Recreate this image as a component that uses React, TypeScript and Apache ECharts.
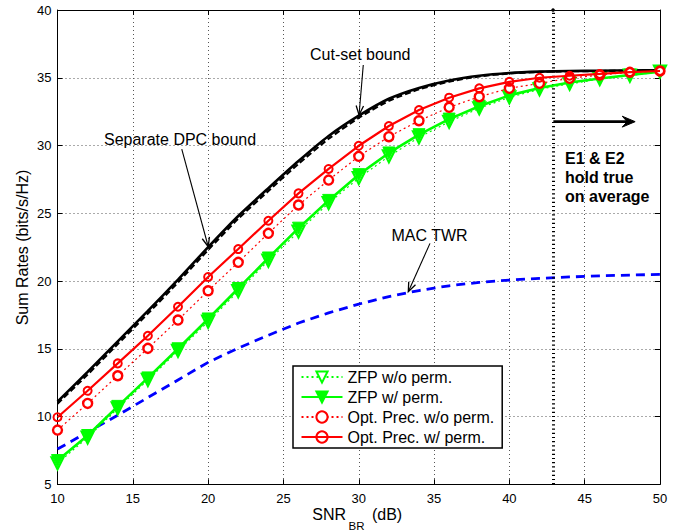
import React, { useEffect, useRef } from "react";
import * as echarts from "echarts";

// ---- data ----
const snr = [10, 12, 14, 16, 18, 20, 22, 24, 26, 28, 30, 32, 34, 36, 38, 40, 42, 44, 46, 48, 50];
const cutSet = [11.1, 13.3, 15.55, 17.8, 20.1, 22.5, 24.8, 26.85, 28.85, 30.7, 32.2, 33.45, 34.25, 34.8, 35.15, 35.35, 35.45, 35.5, 35.52, 35.54, 35.55];
const dpcBound = [10.95, 13.1, 15.35, 17.6, 19.9, 22.3, 24.6, 26.65, 28.65, 30.5, 32.05, 33.3, 34.15, 34.72, 35.1, 35.32, 35.43, 35.48, 35.5, 35.52, 35.53];
const macTwr = [7.6, 8.85, 10.1, 11.4, 12.7, 14.0, 15.05, 16.0, 16.9, 17.65, 18.3, 18.85, 19.3, 19.65, 19.9, 20.07, 20.2, 20.3, 20.38, 20.44, 20.49];
const zfpNoPerm = [6.55, 8.45, 10.6, 12.7, 14.85, 17.0, 19.25, 21.5, 23.65, 25.75, 27.6, 29.2, 30.6, 31.75, 32.75, 33.55, 34.15, 34.55, 34.9, 35.15, 35.45];
const zfpPerm = [6.75, 8.6, 10.75, 12.85, 15.0, 17.2, 19.45, 21.7, 23.9, 25.95, 27.85, 29.45, 30.8, 31.95, 32.9, 33.7, 34.25, 34.65, 34.95, 35.2, 35.45];
const optNoPerm = [9.0, 10.97, 13.01, 15.03, 17.12, 19.28, 21.38, 23.52, 25.61, 27.45, 29.2, 30.65, 31.83, 32.82, 33.6, 34.22, 34.59, 34.96, 35.2, 35.4, 35.5];
const optPerm = [9.95, 11.9, 13.92, 15.96, 18.1, 20.3, 22.36, 24.45, 26.47, 28.27, 29.98, 31.44, 32.62, 33.53, 34.22, 34.7, 35.0, 35.15, 35.28, 35.42, 35.5];
const legendNames = ["ZFP w/o perm.", "ZFP w/ perm.", "Opt. Prec. w/o perm.", "Opt. Prec. w/ perm."];
const thresholdSnr = 42.9;

// annotation anchors in data coordinates: [fromX, fromY, toX, toY]
const cutSetArrow = [30.3, 35.94, 30.02, 32.25];
const dpcArrow = [18.25, 29.74, 20.01, 22.53];
const macArrow = [34.73, 22.78, 33.29, 19.21];
const regionArrow = [42.92, 31.76, 48.35, 31.76];

const pairs = (ys: number[]) => snr.map((x, i) => [x, ys[i]]);
const FONT = "Liberation Sans, Arial, Helvetica, sans-serif";

function headPts(p0: number[], p1: number[], len: number, half: number) {
  const ang = Math.atan2(p1[1] - p0[1], p1[0] - p0[0]);
  const a1 = ang + Math.PI - half;
  const a2 = ang + Math.PI + half;
  return [
    [p1[0] + len * Math.cos(a1), p1[1] + len * Math.sin(a1)],
    [p1[0], p1[1]],
    [p1[0] + len * Math.cos(a2), p1[1] + len * Math.sin(a2)],
  ];
}

export default function App() {
  const ref = useRef<HTMLDivElement>(null);

  useEffect(() => {
    if (!ref.current) return;
    const chart = echarts.init(ref.current, undefined, { renderer: "svg" });
    const green = "#00ff00";
    const red = "#ff0000";

    const axisCommon = {
      type: "value" as const,
      axisLine: { show: true, lineStyle: { color: "#000", width: 1 } },
      axisTick: { show: true, inside: true, length: 5, lineStyle: { color: "#000" } },
    };

    chart.setOption({
      animation: false,
      backgroundColor: "#fff",
      textStyle: { fontFamily: FONT },
      grid: { left: 57.5, right: 24, top: 10, bottom: 46.7, containLabel: false },
      xAxis: [
        {
          ...axisCommon,
          min: 10,
          max: 50,
          interval: 5,
          position: "bottom",
          axisLabel: { color: "#000", fontSize: 13, margin: 8, fontFamily: FONT },
          splitLine: { show: true, lineStyle: { color: "#555", width: 1, type: [1, 3] } },
        },
        {
          ...axisCommon,
          min: 10,
          max: 50,
          interval: 5,
          position: "top",
          axisLabel: { show: false },
          splitLine: { show: false },
        },
      ],
      yAxis: [
        {
          ...axisCommon,
          min: 5,
          max: 40,
          interval: 5,
          position: "left",
          axisLabel: { color: "#000", fontSize: 13, margin: 6, fontFamily: FONT },
          splitLine: { show: true, lineStyle: { color: "#555", width: 1, type: [1, 3] } },
        },
        {
          ...axisCommon,
          min: 5,
          max: 40,
          interval: 5,
          position: "right",
          axisLabel: { show: false },
          splitLine: { show: false },
        },
      ],
      legend: {
        data: legendNames,
        orient: "vertical",
        left: 293,
        top: 366,
        width: 204,
        padding: [3, 8, 3, 7.5],
        itemWidth: 41,
        itemHeight: 14,
        itemGap: 4,
        backgroundColor: "#fff",
        borderColor: "#000",
        borderWidth: 1.5,
        borderRadius: 0,
        textStyle: { color: "#000", fontSize: 16, fontFamily: FONT },
      },
      series: [
        {
          name: "MAC TWR",
          type: "line",
          data: pairs(macTwr),
          symbol: "none",
          lineStyle: { color: "#0000ff", width: 2.8, type: [9, 6] },
          z: 2,
          markLine: {
            silent: true,
            symbol: ["none", "none"],
            label: { show: false },
            lineStyle: { color: "#000", width: 3, type: [1.2, 3] },
            data: [{ xAxis: thresholdSnr }],
          },
        },
        {
          name: "Cut-set bound",
          type: "line",
          data: pairs(cutSet),
          symbol: "none",
          smooth: 0.2,
          lineStyle: { color: "#000", width: 2.6 },
          z: 3,
        },
        {
          name: "Separate DPC bound",
          type: "line",
          data: pairs(dpcBound),
          symbol: "none",
          smooth: 0.2,
          lineStyle: { color: "#000", width: 2.2, type: [6, 3] },
          z: 3,
        },
        {
          name: legendNames[0],
          type: "line",
          data: pairs(zfpNoPerm),
          symbol: "triangle",
          symbolRotate: 180,
          symbolSize: 12,
          lineStyle: { color: green, width: 1.2, type: [2, 3] },
          itemStyle: { color: "#ffffff", borderColor: green, borderWidth: 2.2 },
          z: 4,
        },
        {
          name: legendNames[1],
          type: "line",
          data: pairs(zfpPerm),
          symbol: "triangle",
          symbolRotate: 180,
          symbolSize: 12,
          lineStyle: { color: green, width: 2.6 },
          itemStyle: { color: green, borderColor: green, borderWidth: 1 },
          z: 5,
        },
        {
          name: legendNames[2],
          type: "line",
          data: pairs(optNoPerm),
          symbol: "circle",
          symbolSize: 9,
          lineStyle: { color: red, width: 1.2, type: [2, 3] },
          itemStyle: { color: "#ffffff", borderColor: red, borderWidth: 2.4 },
          z: 6,
        },
        {
          name: legendNames[3],
          type: "line",
          data: pairs(optPerm),
          symbol: "circle",
          symbolSize: 8,
          lineStyle: { color: red, width: 2.2 },
          itemStyle: { color: "rgba(255,255,255,0)", borderColor: red, borderWidth: 2 },
          z: 7,
        },
      ],
    });

    const px = (x: number, y: number) =>
      chart.convertToPixel({ xAxisIndex: 0, yAxisIndex: 0 }, [x, y]) as number[];

    const thinArrow = (a: number[]) => {
      const p0 = px(a[0], a[1]);
      const p1 = px(a[2], a[3]);
      return [
        { type: "line", shape: { x1: p0[0], y1: p0[1], x2: p1[0], y2: p1[1] }, style: { stroke: "#000", lineWidth: 1.1 }, z: 50 },
        { type: "polyline", shape: { points: headPts(p0, p1, 10, 0.38) }, style: { stroke: "#000", lineWidth: 1.3, fill: "none" }, z: 50 },
      ];
    };

    const rp0 = px(regionArrow[0], regionArrow[1]);
    const rp1 = px(regionArrow[2], regionArrow[3]);
    const hl = headPts(rp0, rp1, 14, 0.4);
    const notch = [rp1[0] - 8, rp1[1]];
    const topDot = px(thresholdSnr, 40);

    const txt = (text: string, x: number, y: number, extra: any = {}) => ({
      type: "text",
      x,
      y,
      z: 60,
      style: {
        text,
        fill: "#000",
        fontSize: 16,
        fontFamily: FONT,
        textAlign: "left",
        textVerticalAlign: "middle",
        ...extra,
      },
    });

    chart.setOption({
      graphic: [
        ...thinArrow(cutSetArrow),
        ...thinArrow(dpcArrow),
        ...thinArrow(macArrow),
        { type: "circle", shape: { cx: topDot[0], cy: topDot[1], r: 1.8 }, style: { fill: "#000" }, z: 50 },
        { type: "line", shape: { x1: rp0[0], y1: rp0[1], x2: notch[0] + 2, y2: notch[1] }, style: { stroke: "#000", lineWidth: 2.6 }, z: 50 },
        { type: "polygon", shape: { points: [hl[0], hl[1], hl[2], notch] }, style: { fill: "#000", stroke: "#000", lineWidth: 1 }, z: 50 },
        txt("Cut-set bound", 310, 54),
        txt("Separate DPC bound", 104, 139),
        txt("MAC TWR", 391.5, 235),
        txt("E1 & E2", 565, 158.3, { fontWeight: "bold" }),
        txt("hold true", 565, 177.6, { fontWeight: "bold" }),
        txt("on average", 565, 196.8, { fontWeight: "bold" }),
        {
          type: "text",
          x: 22.5,
          y: 247.5,
          rotation: Math.PI / 2,
          z: 60,
          style: { text: "Sum Rates (bits/s/Hz)", fill: "#000", fontSize: 16, fontFamily: FONT, textAlign: "center", textVerticalAlign: "middle" },
        },
        txt("SNR", 312.3, 514),
        txt("BR", 348.5, 525.5, { fontSize: 11.5 }),
        txt(" (dB)", 367.5, 514),
      ],
    });

    return () => chart.dispose();
  }, []);

  return (
    <div
      ref={ref}
      style={{ position: "absolute", left: 0, top: 0, width: 684, height: 531, background: "#fff" }}
    />
  );
}
